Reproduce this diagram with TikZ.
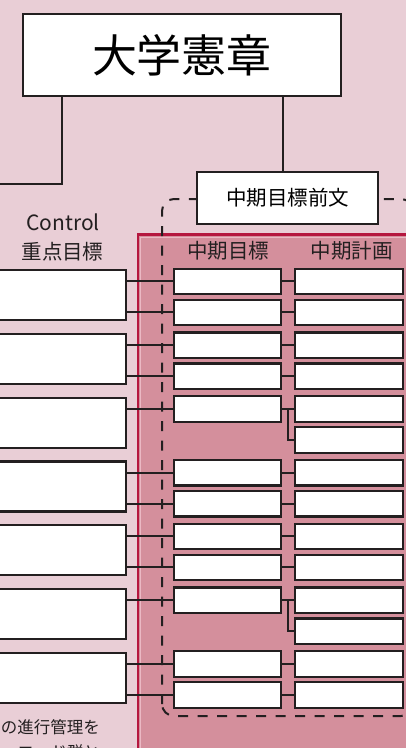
\documentclass[tikz,border=0pt]{standalone}
\usepackage{fontspec}
\newfontfamily\cjk{Noto Sans CJK JP}
\definecolor{bg}{HTML}{E9CED6}
\definecolor{panel}{HTML}{D48F9C}
\definecolor{redline}{HTML}{B5173F}
\definecolor{lightline}{HTML}{EBB9C4}
\definecolor{ink}{HTML}{231F20}
\begin{document}
\begin{tikzpicture}[x=1pt,y=-1pt,
  box/.style={draw=ink,line width=2.4pt,fill=white,inner sep=0pt},
  conn/.style={draw=ink,line width=2pt},
  dashframe/.style={draw=ink,line width=2pt,dash pattern=on 10pt off 9.5pt,rounded corners=12pt},
  lbl/.style={text=ink,inner sep=0pt,font={\cjk\fontsize{20.5}{24}\selectfont}}]
\useasboundingbox (0,0) rectangle (406,748);
\clip (0,0) rectangle (406,748);
\fill[bg] (0,0) rectangle (406,748);
% panel
\fill[panel] (138,234) rectangle (430,770);
\draw[lightline,line width=0.8pt] (140.6,770) -- (140.6,237.1) -- (430,237.1);
\draw[redline,line width=2.6pt] (138,770) -- (138,234.5) -- (430,234.5);
% dashed frame
\draw[dashframe] (162,716) rectangle (413,199);
% top boxes
\node[box,minimum width=318pt,minimum height=82pt] (charter) at (182,55)
  {\cjk\fontsize{45}{50}\selectfont 大学憲章};
\coordinate (lend) at (-5,184);
\draw[conn,line width=2.3pt] ([xshift=40pt]charter.south west) |- (lend);
\node[box,minimum width=181pt,minimum height=52pt] (pre) at (287.5,198)
  {\cjk\fontsize{20.5}{24}\selectfont 中期目標前文};
\draw[conn,line width=2.3pt] ([xshift=-4.5pt]pre.north) -- ([xshift=-4.5pt]pre.north |- charter.south);
% headers
\node[lbl,font={\cjk\fontsize{21}{24}\selectfont}] (ctl) at (63,222) {Control};
\node[lbl] (kt) at (62.5,252) {重点目標};
\node[lbl] (mh) at (228,251) {中期目標};
\node[lbl] (ph) at (351.5,251) {中期計画};
% rows
\foreach \g/\s in {1/0,2/0,3/1,4/0,5/0,6/1,7/0} {
  \pgfmathsetmacro\T{269+63.75*(\g-1)}
  \node[box,minimum width=137pt,minimum height=50pt,anchor=north east] (L\g) at (127,\T) {};
  \node[box,minimum width=107pt,minimum height=25.5pt,anchor=north west] (M\g-1) at (173,{\T-1.5}) {};
  \node[box,minimum width=108pt,minimum height=25.5pt,anchor=north west] (P\g-1) at (294,{\T-1.5}) {};
  \node[box,minimum width=108pt,minimum height=25.5pt,anchor=north west] (P\g-2) at (294,{\T+29.5}) {};
  \draw[conn] (L\g.east |- M\g-1.west) -- (M\g-1.west);
  \draw[conn] (M\g-1.east) -- (P\g-1.west);
  \ifnum\s=0
    \node[box,minimum width=107pt,minimum height=25.5pt,anchor=north west] (M\g-2) at (173,{\T+29.5}) {};
    \draw[conn] (L\g.east |- M\g-2.west) -- (M\g-2.west);
    \draw[conn] (M\g-2.east) -- (P\g-2.west);
  \else
    \coordinate (J\g) at ([xshift=6pt]M\g-1.east);
    \draw[conn] (J\g) |- (P\g-2.west);
  \fi
}
% bottom text
\node[lbl,anchor=east,font={\cjk\fontsize{16.5}{20}\selectfont}] (bt1) at (100,727.5) {の進行管理を};
\node[lbl,anchor=east,font={\cjk\fontsize{16.5}{20}\selectfont}] (bt2) at (100,752) {ロード群と};
\end{tikzpicture}
\end{document}
